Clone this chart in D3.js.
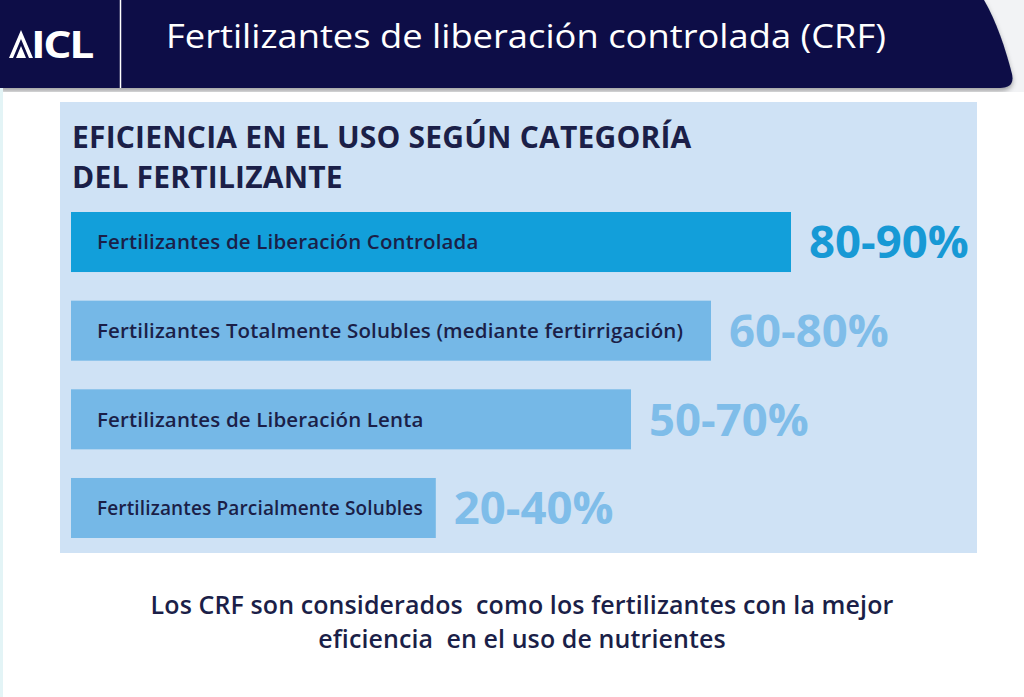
<!DOCTYPE html>
<html>
<head>
<meta charset="utf-8">
<script src="https://cdn.jsdelivr.net/npm/d3@7"></script>
<style>
  html, body { margin: 0; padding: 0; background: #ffffff; }
  svg { display: block; }
</style>
</head>
<body>
<div id="chart"></div>
<script>
// categories and values
const categories = [
    'Fertilizantes de Liberación Controlada',
    'Fertilizantes Totalmente Solubles (mediante fertirrigación)',
    'Fertilizantes de Liberación Lenta',
    'Fertilizantes Parcialmente Solubles',
];
const rangeLow = [80, 60, 50, 20];
const rangeHigh = [90, 80, 70, 40];
// drawn bar length (same % units as the axis); last bar is drawn longer than its value
const barLength = [90, 80, 70, 45.6];
const headingLines = ['EFICIENCIA EN EL USO SEGÚN CATEGORÍA', 'DEL FERTILIZANTE'];
const footerLines = ['Los CRF son considerados  como los fertilizantes con la mejor', 'eficiencia  en el uso de nutrientes'];
const pageTitle = 'Fertilizantes de liberación controlada (CRF)';

const width = 1024;
const height = 697;
const navy = '#0b0f47';
const textDark = '#1b1f48';

const svg = d3.select('#chart')
    .append('svg')
    .attr('width', width)
    .attr('height', height);

// header band
const defs = svg.append('defs');
const shadow = defs.append('filter').attr('id', 'shadow')
    .attr('x', '-5%').attr('y', '-5%').attr('width', '110%').attr('height', '130%');
shadow.append('feDropShadow')
    .attr('dx', 0).attr('dy', 3).attr('stdDeviation', 2.5)
    .attr('flood-color', '#000').attr('flood-opacity', 0.35);

svg.append('rect')
    .attr('x', 0).attr('y', 0).attr('width', width).attr('height', 95)
    .attr('fill', '#f2f3f5');
svg.append('path')
    .attr('d', 'M0,0 L984,0 C996,20 1006,50 1012,74 Q1015,88 1000,88 L0,88 Z')
    .attr('fill', navy)
    .attr('filter', 'url(#shadow)');
svg.append('rect')
    .attr('x', 0).attr('y', 92).attr('width', width).attr('height', height - 92)
    .attr('fill', '#ffffff');
svg.append('rect')
    .attr('x', 0).attr('y', 88).attr('width', 3).attr('height', height - 88)
    .attr('fill', '#e3f4f6');

// logo
const logo = svg.append('g').attr('transform', 'translate(9,30)');
logo.append('path')
    .attr('d', 'M0,28 L12,0 L24,28 L20,28 L12,9 L4,28 Z M7,28 L12,16 L17,28 Z')
    .attr('fill', '#ffffff');
logo.append('text')
    .attr('x', 22).attr('y', 28)
    .attr('font-family', 'Open Sans, sans-serif')
    .attr('font-weight', 700)
    .attr('font-size', 37)
    .attr('letter-spacing', -2)
    .attr('fill', '#ffffff')
    .attr('textLength', 61)
    .attr('lengthAdjust', 'spacingAndGlyphs')
    .text('ICL');
svg.append('line')
    .attr('x1', 120.5).attr('x2', 120.5).attr('y1', 0).attr('y2', 88)
    .attr('stroke', '#ffffff').attr('stroke-width', 1.5);

svg.append('text')
    .attr('x', 166).attr('y', 48)
    .attr('font-family', 'Open Sans, sans-serif')
    .attr('font-size', 33)
    .attr('fill', '#ffffff')
    .attr('textLength', 720)
    .attr('lengthAdjust', 'spacingAndGlyphs')
    .text(pageTitle);

// light panel
svg.append('rect')
    .attr('x', 60).attr('y', 102).attr('width', 917).attr('height', 451)
    .attr('fill', '#cfe2f5');

svg.selectAll('.heading')
    .data(headingLines)
    .join('text')
    .attr('class', 'heading')
    .attr('x', 72)
    .attr('y', (d, i) => 148 + i * 40)
    .attr('font-family', 'Open Sans, sans-serif')
    .attr('font-weight', 700)
    .attr('font-size', 30)
    .attr('letter-spacing', 0.2)
    .attr('fill', textDark)
    .text((d) => d);

// scales
const x = d3.scaleLinear()
    .domain([0, 90])
    .range([71, 791]);
const y = d3.scaleBand()
    .domain(categories)
    .range([212, 538])
    .paddingInner(0.323)
    .paddingOuter(0);

const rows = categories.map((c, i) => ({
    name: c,
    low: rangeLow[i],
    high: rangeHigh[i],
    len: barLength[i],
    first: i === 0,
}));

svg.selectAll('.bar')
    .data(rows)
    .join('rect')
    .attr('class', 'bar')
    .attr('x', x(0))
    .attr('y', (d) => y(d.name))
    .attr('width', (d) => x(d.len) - x(0))
    .attr('height', y.bandwidth())
    .attr('fill', (d) => (d.first ? '#129fda' : '#75b8e7'));

const labels = svg.selectAll('.barLabel')
    .data(rows)
    .join('text')
    .attr('class', 'barLabel')
    .attr('x', x(0) + 26)
    .attr('y', (d) => y(d.name) + y.bandwidth() / 2)
    .attr('dy', '0.35em')
    .attr('font-family', 'Open Sans, sans-serif')
    .attr('font-weight', 600)
    .attr('font-size', 20.5)
    .attr('letter-spacing', 0.15)
    .attr('fill', textDark)
    .text((d) => d.name);

// keep every label inside its bar, as in the original
labels.each(function (d) {
    const room = x(d.len) - x(0) - 26 - 13;
    if (this.getComputedTextLength() > room) {
        d3.select(this).attr('textLength', room).attr('lengthAdjust', 'spacingAndGlyphs');
    }
});

svg.selectAll('.valueLabel')
    .data(rows)
    .join('text')
    .attr('class', 'valueLabel')
    .attr('x', (d) => x(d.len) + 18)
    .attr('y', (d) => y(d.name) + y.bandwidth() / 2)
    .attr('dy', '0.36em')
    .attr('font-family', 'Open Sans, sans-serif')
    .attr('font-weight', 700)
    .attr('font-size', 45.5)
    .attr('fill', (d) => (d.first ? '#1799d5' : '#7fbde9'))
    .text((d) => `${d.low}-${d.high}%`);

// footer note
svg.selectAll('.footer')
    .data(footerLines)
    .join('text')
    .attr('class', 'footer')
    .attr('x', 522)
    .attr('y', (d, i) => 614 + i * 34)
    .attr('text-anchor', 'middle')
    .attr('font-family', 'Open Sans, sans-serif')
    .attr('font-weight', 600)
    .attr('font-size', 25)
    .attr('letter-spacing', 0.1)
    .style('white-space', 'pre')
    .attr('fill', textDark)
    .text((d) => d);
</script>
</body>
</html>
